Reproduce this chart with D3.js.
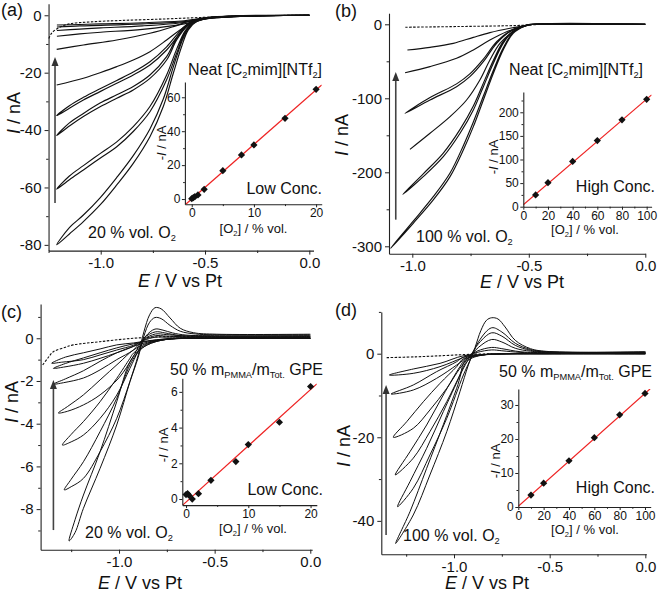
<!DOCTYPE html>
<html><head><meta charset="utf-8">
<script src="https://cdn.jsdelivr.net/npm/d3@7"></script>
<style>body{margin:0;background:#fff}svg{display:block}text{font-family:"Liberation Sans",Arial,sans-serif;fill:#111}</style>
</head><body>
<svg id="chart" width="663" height="590"></svg>
<script>
// ---------------- DATA ----------------
// Panel (a): neat [C2mim][NTf2], low concentrations (E / V, I / nA)
const aBlank = [[0,0],[-0.3,-0.2],[-0.5,-0.7],[-0.7,-1.3],[-0.9,-1.8],[-1.05,-2.3],[-1.15,-3.0],[-1.2,-4.3],[-1.235,-6.2],[-1.25,-8.3]];
const aCVs = [
 [[0,0],[-0.3,-0.25],[-0.5,-1.0],[-0.6,-1.9],[-0.8,-2.6],[-1.0,-3.0],[-1.1,-3.2],[-1.21,-3.4]],
 [[0,0],[-0.3,-0.3],[-0.5,-1.1],[-0.6,-2.2],[-0.8,-3.0],[-1.0,-3.5],[-1.1,-3.7],[-1.21,-4.1]],
 [[0,0],[-0.3,-0.3],[-0.5,-1.2],[-0.6,-2.5],[-0.8,-3.7],[-1.0,-4.4],[-1.1,-4.8],[-1.21,-5.3]],
 [[0,0],[-0.3,-0.35],[-0.5,-1.3],[-0.6,-3.0],[-0.8,-4.9],[-1.0,-5.9],[-1.1,-6.5],[-1.21,-7.3]],
 [[0,0],[-0.204,-0.13],[-0.444,-0.71],[-0.556,-1.64],[-0.652,-3.96],[-0.764,-6.28],[-0.923,-8.61],[-1.083,-10.35],[-1.211,-11.86]],
 [[0,0],[-0.364,-0.24],[-0.492,-1.06],[-0.572,-2.8],[-0.62,-5.12],[-0.684,-8.61],[-0.764,-12.67],[-0.844,-15.58],[-0.923,-17.9],[-1.003,-20.0],[-1.083,-21.96],[-1.211,-24.3]],
 [[0,0],[-0.3,-0.25],[-0.492,-1.06],[-0.572,-2.8],[-0.62,-6.3],[-0.684,-12.1],[-0.764,-17.3],[-0.844,-20.8],[-0.923,-23.7],[-1.003,-26.6],[-1.083,-29.5],[-1.15,-32.4],[-1.211,-35],
  [-1.15,-31.5],[-1.083,-28.6],[-1.003,-25.6],[-0.923,-22.7],[-0.844,-19.8],[-0.764,-16.2],[-0.684,-11.0],[-0.62,-5.5],[-0.572,-2.4],[-0.492,-0.9],[-0.3,-0.2],[0,0]],
 [[0,0],[-0.3,-0.25],[-0.524,-1.4],[-0.588,-4.0],[-0.636,-8.6],[-0.684,-15.6],[-0.764,-22.0],[-0.844,-26.0],[-0.923,-28.9],[-1.003,-31.9],[-1.083,-35.3],[-1.15,-38.6],[-1.211,-41.9],
  [-1.15,-37.5],[-1.083,-34.2],[-1.003,-30.6],[-0.923,-27.7],[-0.844,-24.8],[-0.764,-20.8],[-0.684,-14.4],[-0.636,-7.8],[-0.588,-3.5],[-0.524,-1.2],[-0.3,-0.2],[0,0]],
 [[0,0],[-0.3,-0.25],[-0.492,-1.06],[-0.556,-2.8],[-0.596,-6.3],[-0.636,-13.25],[-0.684,-22.5],[-0.764,-33.6],[-0.844,-40.5],[-0.923,-45.8],[-1.003,-49.8],[-1.083,-53.9],[-1.15,-57.3],[-1.211,-60.6],
  [-1.15,-56],[-1.083,-52.4],[-1.003,-48.2],[-0.923,-44.1],[-0.844,-38.8],[-0.764,-31.8],[-0.684,-20.8],[-0.636,-11.8],[-0.596,-5.5],[-0.556,-2.4],[-0.492,-0.9],[-0.3,-0.2],[0,0]],
 [[0,0],[-0.3,-0.25],[-0.444,-0.7],[-0.54,-2.2],[-0.58,-5.1],[-0.612,-10.9],[-0.652,-20.2],[-0.7,-31.8],[-0.764,-42.3],[-0.844,-51.6],[-0.923,-59.1],[-1.003,-66.1],[-1.083,-71.9],[-1.15,-76.2],[-1.211,-80],
  [-1.15,-74],[-1.083,-69.6],[-1.003,-63.6],[-0.923,-56.5],[-0.844,-48.9],[-0.764,-39.6],[-0.7,-29.2],[-0.652,-18],[-0.612,-9.3],[-0.58,-4.3],[-0.54,-1.9],[-0.444,-0.6],[-0.3,-0.2],[0,0]]
];
const aArrow = [[-1.219,-65.4],[-1.219,-14.5]];
const aXTicks = [-1.0,-0.5,0.0], aXTickLabels = ["-1.0","-0.5","0.0"], aXMinor = [-1.25,-0.75,-0.25];
const aYTicks = [0,-20,-40,-60,-80], aYTickLabels = ["0","-20","-40","-60","-80"], aYMinor = [-10,-30,-50,-70];
const aInsetConc = [0,0.25,0.5,1,2,5,8,10,15,20];
const aInsetCurrent = [0.2,0.8,1.4,2.4,5.7,16.7,26,31.9,47.6,64.7];
const aFit = [3.22, 0.0]; // slope, intercept
const aInXTicks = [0,10,20], aInXMinor = [5,15], aInYTicks = [0,20,40,60], aInYMinor = [10,30,50];

// Panel (b): neat, high concentrations
const bBlank = [[-1.03,-4],[-0.8,-3],[-0.6,-2],[-0.5,-1],[-0.45,0]];
const bCVs = [
 [[0,0],[-0.352,0],[-0.467,0],[-0.51,-1.4],[-0.581,-5.4],[-0.667,-11.3],[-0.738,-17.6],[-0.824,-25.7],[-0.924,-31.1],[-1.021,-34.7]],
 [[0,0],[-0.481,0],[-0.524,-3.2],[-0.595,-9.95],[-0.667,-21.2],[-0.738,-34.7],[-0.81,-46.0],[-0.924,-57.2],[-1.031,-65.4]],
 [[0,0],[-0.481,0],[-0.524,-2.3],[-0.581,-9.95],[-0.638,-25.7],[-0.695,-50.5],[-0.753,-70.8],[-0.81,-84.3],[-0.924,-102.3],[-1.031,-120.3],
  [-0.924,-99],[-0.81,-80.5],[-0.753,-67],[-0.695,-47],[-0.638,-23.5],[-0.581,-9],[-0.524,-2],[-0.481,0],[0,0]],
 [[0,0],[-0.48,0],[-0.51,-1.4],[-0.567,-9.95],[-0.624,-25.7],[-0.667,-48.2],[-0.71,-75.3],[-0.767,-102.3],[-0.838,-124.8],[-0.924,-147.3],[-1.01,-169.0]],
 [[0,0],[-0.48,0],[-0.51,-1.4],[-0.567,-9.95],[-0.61,-25.7],[-0.652,-52.7],[-0.695,-84.3],[-0.738,-115.8],[-0.795,-147.3],[-0.867,-178.9],[-0.953,-205.9],[-1.041,-229.8],
  [-0.953,-202],[-0.867,-174],[-0.795,-142],[-0.738,-110.5],[-0.695,-79.5],[-0.652,-48.5],[-0.61,-23],[-0.567,-9],[-0.51,-1.2],[-0.48,0],[0,0]],
 [[0,0],[-0.48,0],[-0.51,-1.4],[-0.567,-12.2],[-0.61,-34.7],[-0.652,-66.3],[-0.695,-102.3],[-0.738,-138.3],[-0.781,-169.9],[-0.838,-205.9],[-0.91,-237.4],[-0.996,-268.9],[-1.093,-302.7],
  [-0.996,-266],[-0.91,-233],[-0.838,-201],[-0.781,-164],[-0.738,-132],[-0.695,-97],[-0.652,-62],[-0.61,-32],[-0.567,-11],[-0.51,-1.2],[-0.48,0],[0,0]]
];
const bArrow = [[-1.071,-264],[-1.071,-64.5]];
const bXTicks = [-1.0,-0.5,0.0], bXTickLabels = ["-1.0","-0.5","0.0"], bXMinor = [-0.75,-0.25];
const bYTicks = [0,-100,-200,-300], bYTickLabels = ["0","-100","-200","-300"], bYMinor = [-50,-150,-250];
const bInsetConc = [10,20,40,60,80,100];
const bInsetCurrent = [25,51,96,140,184,227.5];
const bFit = [2.24, 4.0];
const bInXTicks = [0,20,40,60,80,100], bInXMinor = [10,30,50,70,90], bInYTicks = [0,50,100,150,200], bInYMinor = [25,75,125,175,225];

// Panel (c): 50 % PMMA GPE, low concentrations
const cBlank = [[-1.399,-1.25],[-1.37,-0.9],[-1.343,-0.63],[-1.28,-0.42],[-1.239,-0.31],[-1.1,-0.16],[-0.925,0.0],[-0.75,0.08],[-0.6,0.1]];
const cCVs = [
 [[0,0],[-0.5,0],[-0.75,-0.03],[-0.85,-0.12],[-0.925,-0.22],[-1.012,-0.31],[-1.099,-0.5],[-1.186,-0.68],[-1.28,-0.88],[-1.352,-1.17],
  [-1.3,-1.12],[-1.186,-1.0],[-1.099,-0.78],[-1.012,-0.55],[-0.925,-0.33],[-0.87,-0.1],[-0.81,0.05],[-0.75,0.05],[-0.6,0.03],[0,0.03]],
 [[0,0],[-0.5,0],[-0.75,-0.03],[-0.85,-0.14],[-0.925,-0.26],[-1.012,-0.45],[-1.099,-0.68],[-1.186,-0.92],[-1.28,-1.18],[-1.343,-1.41],
  [-1.29,-1.35],[-1.186,-1.17],[-1.099,-0.94],[-1.012,-0.68],[-0.925,-0.38],[-0.87,-0.08],[-0.81,0.12],[-0.75,0.1],[-0.6,0.06],[0,0.06]],
 [[0,0],[-0.5,0],[-0.75,-0.04],[-0.85,-0.18],[-0.925,-0.38],[-1.012,-0.68],[-1.099,-1.08],[-1.186,-1.52],[-1.28,-1.9],[-1.343,-2.15],
  [-1.29,-2.08],[-1.186,-1.86],[-1.099,-1.48],[-1.012,-1.0],[-0.925,-0.55],[-0.87,-0.05],[-0.81,0.2],[-0.75,0.17],[-0.6,0.09],[0,0.08]],
 [[0,0],[-0.5,0],[-0.75,-0.05],[-0.85,-0.22],[-0.925,-0.55],[-1.0,-1.15],[-1.099,-1.95],[-1.186,-2.65],[-1.27,-3.2],[-1.317,-3.5],
  [-1.27,-3.42],[-1.186,-3.12],[-1.099,-2.65],[-1.0,-1.85],[-0.925,-0.85],[-0.87,0.0],[-0.81,0.3],[-0.76,0.25],[-0.68,0.12],[-0.6,0.1],[0,0.1]],
 [[0,0],[-0.5,0],[-0.75,-0.05],[-0.85,-0.25],[-0.925,-0.7],[-0.943,-0.94],[-1.012,-1.88],[-1.099,-2.97],[-1.186,-3.9],[-1.25,-4.5],[-1.296,-5.0],
  [-1.25,-4.85],[-1.186,-4.53],[-1.099,-3.75],[-1.012,-2.66],[-0.943,-1.41],[-0.9,-0.6],[-0.86,0.1],[-0.812,0.43],[-0.77,0.38],[-0.72,0.25],[-0.65,0.15],[-0.5,0.12],[0,0.12]],
 [[0,0],[-0.5,0],[-0.75,-0.05],[-0.85,-0.3],[-0.9,-0.65],[-0.943,-1.25],[-1.012,-2.81],[-1.099,-4.37],[-1.186,-5.78],[-1.25,-6.6],[-1.286,-7.1],
  [-1.25,-6.95],[-1.186,-6.56],[-1.099,-5.31],[-1.012,-3.75],[-0.943,-2.03],[-0.9,-0.9],[-0.87,0.1],[-0.84,0.75],[-0.812,0.97],[-0.78,0.92],[-0.733,0.6],[-0.68,0.33],[-0.6,0.2],[-0.4,0.16],[0,0.16]],
 [[0,0],[-0.5,0],[-0.75,-0.05],[-0.85,-0.3],[-0.9,-0.6],[-0.943,-1.1],[-1.012,-2.97],[-1.099,-5.31],[-1.186,-7.34],[-1.23,-8.5],[-1.261,-9.49],
  [-1.23,-9.1],[-1.186,-7.96],[-1.099,-6.09],[-1.012,-4.06],[-0.943,-2.03],[-0.9,-0.8],[-0.87,0.3],[-0.84,1.1],[-0.812,1.43],[-0.78,1.38],[-0.733,0.95],[-0.68,0.47],[-0.61,0.26],[-0.49,0.19],[0,0.19]]
];
const cArrow = [[-1.343,-8.98],[-1.343,-1.95]];
const cXTicks = [-1.0,-0.5,0.0], cXTickLabels = ["-1.0","-0.5","0.0"], cXMinor = [-1.25,-0.75,-0.25];
const cYTicks = [0,-2,-4,-6,-8], cYTickLabels = ["0","-2","-4","-6","-8"], cYMinor = [1,-1,-3,-5,-7,-9];
const cInsetConc = [0,0.25,0.5,1,2,4,8,10,15,20];
const cInsetCurrent = [0.25,0.3,0.2,0.0,0.3,1.05,2.1,3.05,4.3,6.3];
const cFit = [0.315, -0.17];
const cInXTicks = [0,10,20], cInXMinor = [5,15], cInYTicks = [0,2,4,6], cInYMinor = [1,3,5];

// Panel (d): 50 % PMMA GPE, high concentrations
const dBlank = [[-1.352,-0.95],[-1.2,-0.75],[-1.05,-0.45],[-0.916,-0.15],[-0.8,0]];
const dCVs = [
 [[0,0],[-0.5,0],[-0.75,-0.05],[-0.85,-0.2],[-0.951,-0.5],[-1.073,-2.31],[-1.213,-3.66],[-1.338,-5.1],
  [-1.213,-4.7],[-1.073,-3.1],[-0.951,-0.9],[-0.88,0.3],[-0.803,0.9],[-0.75,0.7],[-0.65,0.3],[-0.5,0.2],[0,0.2]],
 [[0,0],[-0.5,0],[-0.75,-0.05],[-0.85,-0.3],[-0.951,-0.8],[-0.986,-1.91],[-1.091,-4.3],[-1.213,-7.49],[-1.329,-9.64],
  [-1.213,-8.69],[-1.091,-5.9],[-0.986,-2.71],[-0.93,-0.8],[-0.88,0.6],[-0.803,1.5],[-0.75,1.2],[-0.65,0.45],[-0.5,0.25],[0,0.25]],
 [[0,0],[-0.5,0],[-0.75,-0.05],[-0.85,-0.3],[-0.951,-1.2],[-0.986,-3.1],[-1.073,-7.09],[-1.16,-11.48],[-1.247,-16.26],[-1.317,-20.0],
  [-1.213,-17.86],[-1.126,-13.47],[-1.038,-8.29],[-0.969,-3.5],[-0.92,-0.8],[-0.87,1.6],[-0.803,3.4],[-0.75,2.8],[-0.68,1.3],[-0.6,0.6],[-0.5,0.35],[0,0.3]],
 [[0,0],[-0.5,0],[-0.75,-0.05],[-0.85,-0.3],[-0.94,-1.3],[-0.969,-3.1],[-1.056,-9.88],[-1.143,-17.06],[-1.23,-23.44],[-1.307,-29.0],
  [-1.213,-25.0],[-1.126,-18.66],[-1.038,-11.48],[-0.96,-4.3],[-0.92,-1.0],[-0.87,2.5],[-0.803,5.0],[-0.75,4.2],[-0.68,2.0],[-0.6,0.8],[-0.5,0.4],[0,0.35]],
 [[0,0],[-0.5,0],[-0.75,-0.05],[-0.85,-0.3],[-0.94,-1.5],[-0.969,-5.1],[-1.056,-13.87],[-1.143,-22.64],[-1.23,-30.6],[-1.295,-36.6],
  [-1.213,-32.21],[-1.126,-24.24],[-1.038,-15.47],[-0.951,-5.1],[-0.91,-1.0],[-0.87,3.0],[-0.803,6.2],[-0.75,5.2],[-0.68,2.5],[-0.6,1.0],[-0.5,0.45],[0,0.4]],
 [[0,0],[-0.5,0],[-0.75,-0.05],[-0.85,-0.3],[-0.934,-1.91],[-0.986,-8.29],[-1.056,-17.0],[-1.143,-27.43],[-1.23,-37.79],[-1.305,-45.4],
  [-1.213,-38.59],[-1.126,-29.02],[-1.038,-18.66],[-0.969,-9.09],[-0.925,-2.71],[-0.89,1.5],[-0.86,5.5],[-0.83,8.0],[-0.803,8.6],[-0.77,8.3],[-0.733,6.4],[-0.68,3.2],[-0.6,1.2],[-0.5,0.5],[0,0.45]]
];
const dArrow = [[-1.355,-43.4],[-1.355,-7.5]];
const dXTicks = [-1.0,-0.5,0.0], dXTickLabels = ["-1.0","-0.5","0.0"], dXMinor = [-1.25,-0.75,-0.25];
const dYTicks = [0,-20,-40], dYTickLabels = ["0","-20","-40"], dYMinor = [10,-10,-30];
const dInsetConc = [10,20,40,60,80,100];
const dInsetCurrent = [3.5,7.0,13.6,20.4,27.1,33.4];
const dFit = [0.332, 0.2];
const dInXTicks = [0,20,40,60,80,100], dInXMinor = [10,30,50,70,90], dInYTicks = [0,10,20,30], dInYMinor = [5,15,25];

// ---------------- DRAWING ----------------
const svg = d3.select("#chart");
let clipId = 0;

function rich(sel, parts, fs) {
  let sub = false;
  parts.forEach(([t, k]) => {
    const ts = sel.append("tspan").text(t);
    if (k === "i") ts.attr("font-style", "italic");
    if (k === "sub") { ts.attr("font-size", fs * 0.58); if (!sub) ts.attr("dy", fs * 0.2); sub = true; }
    else { if (sub) ts.attr("dy", -fs * 0.2); sub = false; }
  });
  return sel;
}
function label(g, x, y, parts, fs, anchor, rotate) {
  const t = g.append("text").attr("font-size", fs).attr("text-anchor", anchor || "start");
  if (rotate) t.attr("transform", `translate(${x},${y}) rotate(-90)`);
  else t.attr("x", x).attr("y", y);
  return rich(t, parts, fs);
}
function styleAxis(sel, fs) {
  sel.selectAll(".domain").attr("stroke", "#222").attr("stroke-width", 1.1);
  sel.selectAll(".tick line").attr("stroke", "#222").attr("stroke-width", 1);
  sel.selectAll("text").attr("font-size", fs).attr("font-family", '"Liberation Sans",Arial,sans-serif').attr("fill", "#111");
}
function axes(g, x, y, o) {
  const gx = g.append("g").attr("transform", `translate(0,${y.range()[0]})`)
    .call(d3.axisBottom(x).tickValues(o.xTicks).tickFormat((d, i) => o.xLabels ? o.xLabels[i] : d).tickSize(o.ts).tickPadding(o.tpx).tickSizeOuter(0));
  styleAxis(gx, o.fs);
  const gxm = g.append("g").attr("transform", `translate(0,${y.range()[0]})`)
    .call(d3.axisBottom(x).tickValues(o.xMinor).tickFormat("").tickSize(o.ts * 0.6).tickSizeOuter(0));
  gxm.select(".domain").remove(); styleAxis(gxm, o.fs);
  const gy = g.append("g").attr("transform", `translate(${x.range()[0]},0)`)
    .call(d3.axisLeft(y).tickValues(o.yTicks).tickFormat((d, i) => o.yLabels ? o.yLabels[i] : d).tickSize(o.ts).tickPadding(o.tpy).tickSizeOuter(0));
  styleAxis(gy, o.fs);
  const gym = g.append("g").attr("transform", `translate(${x.range()[0]},0)`)
    .call(d3.axisLeft(y).tickValues(o.yMinor).tickFormat("").tickSize(o.ts * 0.6).tickSizeOuter(0));
  gym.select(".domain").remove(); styleAxis(gym, o.fs);
}

function drawPanel(p) {
  const g = svg.append("g");
  const x = d3.scaleLinear().domain(p.xDomain).range(p.xRange);
  const y = d3.scaleLinear().domain(p.yDomain).range(p.yRange);
  axes(g, x, y, {xTicks: p.xTicks, xLabels: p.xLabels, xMinor: p.xMinor, yTicks: p.yTicks, yLabels: p.yLabels, yMinor: p.yMinor, ts: 4, tpx: 3, tpy: 3, fs: 15});
  const line = d3.line().x(d => x(d[0])).y(d => y(d[1])).curve(d3.curveCatmullRom.alpha(0.5));
  g.append("path").attr("d", line(p.blank)).attr("fill", "none").attr("stroke", "#111").attr("stroke-width", 1.1).attr("stroke-dasharray", "2.5,1.5");
  g.selectAll("path.cv").data(p.cvs).join("path").attr("class", "cv")
    .attr("d", line).attr("fill", "none").attr("stroke", "#111").attr("stroke-width", p.sw);
  // arrow
  const ax = x(p.arrow[0][0]), ay0 = y(p.arrow[0][1]), ay1 = y(p.arrow[1][1]);
  g.append("line").attr("x1", ax).attr("x2", ax).attr("y1", ay0).attr("y2", ay1 + 6).attr("stroke", "#444").attr("stroke-width", 1.6);
  g.append("path").attr("d", `M${ax},${ay1} L${ax - 3.5},${ay1 + 9} L${ax + 3.5},${ay1 + 9} Z`).attr("fill", "#333");
  // inset
  const ix = d3.scaleLinear().domain(p.in.xDomain).range(p.in.xRange);
  const iy = d3.scaleLinear().domain(p.in.yDomain).range(p.in.yRange);
  const cid = "clip" + (clipId++);
  g.append("clipPath").attr("id", cid).append("rect")
    .attr("x", ix.range()[0]).attr("y", iy.range()[1]).attr("width", ix.range()[1] - ix.range()[0]).attr("height", iy.range()[0] - iy.range()[1]);
  const xd = ix.domain();
  g.append("line").attr("clip-path", `url(#${cid})`)
    .attr("x1", ix(xd[0])).attr("y1", iy(p.in.fit[0] * xd[0] + p.in.fit[1]))
    .attr("x2", ix(xd[1])).attr("y2", iy(p.in.fit[0] * xd[1] + p.in.fit[1]))
    .attr("stroke", "#ee2222").attr("stroke-width", 1.2);
  axes(g, ix, iy, {xTicks: p.in.xTicks, xMinor: p.in.xMinor, yTicks: p.in.yTicks, yMinor: p.in.yMinor, ts: 3, tpx: 1.5, tpy: 1.5, fs: 12});
  const pts = p.in.conc.map((c, i) => [c, p.in.cur[i]]);
  g.selectAll("path.pt").data(pts).join("path").attr("class", "pt")
    .attr("d", d3.symbol().type(d3.symbolSquare).size(26))
    .attr("transform", d => `translate(${ix(d[0])},${iy(d[1])}) rotate(45)`).attr("fill", "#111");
  // texts
  p.texts.forEach(t => label(g, t.x, t.y, t.parts, t.fs, t.anchor, t.rot));
}

const O2lab = [["[O"], ["2", "sub"], ["] / % vol."]];
const negI = [["-"], ["I", "i"], [" / nA"]];
const Elab = [["E", "i"], [" / V vs Pt"]];
const Ilab = [["I", "i"], [" / nA"]];
const neat = [["Neat [C"], ["2", "sub"], ["mim][NTf"], ["2", "sub"], ["]"]];
const gpe = [["50 % m"], ["PMMA", "sub"], ["/m"], ["Tot.", "sub"], [" GPE"]];

drawPanel({
  xDomain: [-1.25, 0.02], xRange: [48.55, 313.5], yDomain: [-82, 4], yRange: [250.6, 3.8],
  xTicks: aXTicks, xLabels: aXTickLabels, xMinor: aXMinor, yTicks: aYTicks, yLabels: aYTickLabels, yMinor: aYMinor,
  blank: aBlank, cvs: aCVs, arrow: aArrow, sw: 1.15,
  in: {xDomain: [-1.1, 20.9], xRange: [184.9, 321.7], yDomain: [-3.1, 69], yRange: [204.3, 82],
       xTicks: aInXTicks, xMinor: aInXMinor, yTicks: aInYTicks, yMinor: aInYMinor, conc: aInsetConc, cur: aInsetCurrent, fit: aFit},
  texts: [
    {x: 1, y: 16, parts: [["(a)"]], fs: 18},
    {x: 180, y: 287, parts: Elab, fs: 18, anchor: "middle"},
    {x: 20, y: 113, parts: Ilab, fs: 18, anchor: "middle", rot: true},
    {x: 322, y: 75, parts: neat, fs: 16, anchor: "end"},
    {x: 322, y: 194, parts: [["Low Conc."]], fs: 16, anchor: "end"},
    {x: 88, y: 238, parts: [["20 % vol. O"], ["2", "sub"]], fs: 16},
    {x: 253.5, y: 233, parts: O2lab, fs: 13, anchor: "middle"},
    {x: 166, y: 143, parts: negI, fs: 13, anchor: "middle", rot: true}
  ]
});
drawPanel({
  xDomain: [-1.1, 0.0], xRange: [389, 645.3], yDomain: [-310, 15], yRange: [253.7, 13.2],
  xTicks: bXTicks, xLabels: bXTickLabels, xMinor: bXMinor, yTicks: bYTicks, yLabels: bYTickLabels, yMinor: bYMinor,
  blank: bBlank, cvs: bCVs, arrow: bArrow, sw: 1.15,
  in: {xDomain: [0, 104], xRange: [523.3, 651.6], yDomain: [0, 243], yRange: [206.7, 92],
       xTicks: bInXTicks, xMinor: bInXMinor, yTicks: bInYTicks, yMinor: bInYMinor, conc: bInsetConc, cur: bInsetCurrent, fit: bFit},
  texts: [
    {x: 335, y: 17, parts: [["(b)"]], fs: 18},
    {x: 522, y: 288, parts: Elab, fs: 18, anchor: "middle"},
    {x: 348, y: 135, parts: Ilab, fs: 18, anchor: "middle", rot: true},
    {x: 643, y: 75, parts: neat, fs: 16, anchor: "end"},
    {x: 655, y: 192, parts: [["High Conc."]], fs: 16, anchor: "end"},
    {x: 416, y: 242, parts: [["100 % vol. O"], ["2", "sub"]], fs: 16},
    {x: 585, y: 234, parts: O2lab, fs: 13, anchor: "middle"},
    {x: 498, y: 157, parts: negI, fs: 13, anchor: "middle", rot: true}
  ]
});
drawPanel({
  xDomain: [-1.41, 0.01], xRange: [40.6, 312.2], yDomain: [-9.9, 1.6], yRange: [549.7, 304.1],
  xTicks: cXTicks, xLabels: cXTickLabels, xMinor: cXMinor, yTicks: cYTicks, yLabels: cYTickLabels, yMinor: cYMinor,
  blank: cBlank, cvs: cCVs, arrow: cArrow, sw: 1.0,
  in: {xDomain: [-0.6, 21], xRange: [182.3, 316.8], yDomain: [-0.34, 6.76], yRange: [505.1, 378.3],
       xTicks: cInXTicks, xMinor: cInXMinor, yTicks: cInYTicks, yMinor: cInYMinor, conc: cInsetConc, cur: cInsetCurrent, fit: cFit},
  texts: [
    {x: 1, y: 318, parts: [["(c)"]], fs: 18},
    {x: 140, y: 589, parts: Elab, fs: 18, anchor: "middle"},
    {x: 18, y: 402, parts: Ilab, fs: 18, anchor: "middle", rot: true},
    {x: 323, y: 375, parts: gpe, fs: 16, anchor: "end"},
    {x: 323, y: 495, parts: [["Low Conc."]], fs: 16, anchor: "end"},
    {x: 85, y: 538, parts: [["20 % vol. O"], ["2", "sub"]], fs: 16},
    {x: 253, y: 533, parts: O2lab, fs: 13, anchor: "middle"},
    {x: 168, y: 445, parts: negI, fs: 13, anchor: "middle", rot: true}
  ]
});
drawPanel({
  xDomain: [-1.38, 0.005], xRange: [381.3, 646.3], yDomain: [-48, 10], yRange: [554.3, 311.9],
  xTicks: dXTicks, xLabels: dXTickLabels, xMinor: dXMinor, yTicks: dYTicks, yLabels: dYTickLabels, yMinor: dYMinor,
  blank: dBlank, cvs: dCVs, arrow: dArrow, sw: 1.0,
  in: {xDomain: [0, 104.5], xRange: [518.3, 650.7], yDomain: [0, 34.7], yRange: [507, 389],
       xTicks: dInXTicks, xMinor: dInXMinor, yTicks: dInYTicks, yMinor: dInYMinor, conc: dInsetConc, cur: dInsetCurrent, fit: dFit},
  texts: [
    {x: 335, y: 316, parts: [["(d)"]], fs: 18},
    {x: 487, y: 589, parts: Elab, fs: 18, anchor: "middle"},
    {x: 350, y: 446, parts: Ilab, fs: 18, anchor: "middle", rot: true},
    {x: 652, y: 377, parts: gpe, fs: 16, anchor: "end"},
    {x: 655, y: 493, parts: [["High Conc."]], fs: 16, anchor: "end"},
    {x: 403, y: 541, parts: [["100 % vol. O"], ["2", "sub"]], fs: 16},
    {x: 585, y: 534, parts: O2lab, fs: 13, anchor: "middle"},
    {x: 500, y: 461, parts: negI, fs: 13, anchor: "middle", rot: true}
  ]
});
</script>
</body></html>
